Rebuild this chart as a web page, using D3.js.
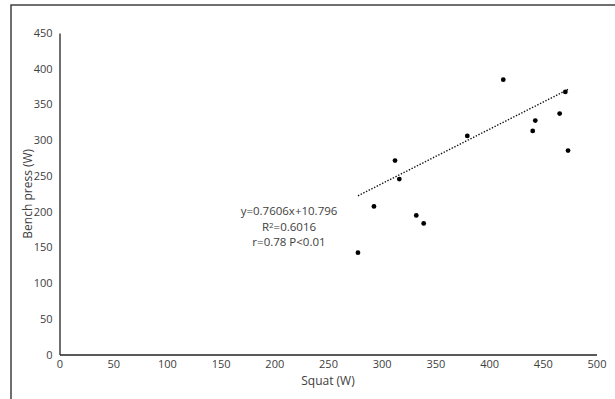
<!DOCTYPE html>
<html>
<head>
<meta charset="utf-8">
<script src="https://cdn.jsdelivr.net/npm/d3@7"></script>
<style>
  html, body { margin: 0; padding: 0; background: #fff; overflow: hidden; }
  svg { display: block; font-family: "Open Sans", "Noto Sans", sans-serif; }
</style>
</head>
<body>
<svg id="chart" width="615" height="399"></svg>
<script>
// Squat vs bench press power output, one point per athlete
const squat = [413.2, 471.0, 465.7, 443.0, 440.6, 473.5, 379.7, 312.4, 316.4, 292.8, 332.2, 339.1, 277.9];
const bench = [384.7, 367.5, 337.2, 327.4, 313.0, 285.5, 306.0, 271.5, 245.5, 207.3, 194.7, 183.5, 142.5];

const xTicks = [0, 50, 100, 150, 200, 250, 300, 350, 400, 450, 500];
const yTicks = [0, 50, 100, 150, 200, 250, 300, 350, 400, 450];

// Linear fit stated in the annotation
const fitSlope = 0.7606;
const fitIntercept = 10.796;
const fitLines = ["y=0.7606x+10.796", "R2=0.6016", "r=0.78 P<0.01"];

const svg = d3.select("#chart");

// outer frame (right and bottom edges fall outside the canvas)
svg.append("rect")
  .attr("x", 11).attr("y", 5)
  .attr("width", 640).attr("height", 420)
  .attr("fill", "none").attr("stroke", "#333").attr("stroke-width", 1.4);

const x = d3.scaleLinear().domain([0, 500]).range([59.5, 596.5]);
const y = d3.scaleLinear().domain([0, 450]).range([354.5, 33]);

const textColor = "#404040";

// x axis
const gx = svg.append("g")
  .attr("transform", `translate(0,${y(0)})`)
  .call(d3.axisBottom(x).tickValues(xTicks).tickSize(0).tickPadding(6));
gx.select(".domain").attr("stroke", "#222").attr("stroke-width", 1.3);
gx.selectAll("text").attr("fill", textColor).style("font-size", "11px")
  .style("font-family", "'Open Sans', sans-serif");

// y axis
const gy = svg.append("g")
  .attr("transform", `translate(${x(0)},0)`)
  .call(d3.axisLeft(y).tickValues(yTicks).tickSize(0).tickPadding(7));
gy.select(".domain").attr("stroke", "#222").attr("stroke-width", 1.3);
gy.selectAll("text").attr("fill", textColor).style("font-size", "11px")
  .style("font-family", "'Open Sans', sans-serif");

// axis titles
svg.append("text")
  .attr("x", (x(0) + x(500)) / 2).attr("y", 385)
  .attr("text-anchor", "middle")
  .attr("fill", textColor).style("font-size", "12px")
  .text("Squat (W)");

svg.append("text")
  .attr("transform", `translate(32,${(y(0) + y(450)) / 2}) rotate(-90)`)
  .attr("text-anchor", "middle")
  .attr("fill", textColor).style("font-size", "12px")
  .text("Bench press (W)");

// fitted line over the observed squat range
const [xMin, xMax] = d3.extent(squat);
svg.append("line")
  .attr("x1", x(xMin)).attr("y1", y(fitSlope * xMin + fitIntercept))
  .attr("x2", x(xMax)).attr("y2", y(fitSlope * xMax + fitIntercept))
  .attr("stroke", "#111").attr("stroke-width", 1.4)
  .attr("stroke-dasharray", "1.4,1.6");

// points
svg.append("g").selectAll("circle")
  .data(squat.map((s, i) => ({ s, b: bench[i] })))
  .join("circle")
  .attr("cx", d => x(d.s)).attr("cy", d => y(d.b))
  .attr("r", 2.4).attr("fill", "#000");

// annotation
const ann = svg.append("text")
  .attr("text-anchor", "middle")
  .attr("fill", textColor).style("font-size", "11.5px");
fitLines.forEach((line, i) => {
  const t = ann.append("tspan").attr("x", 289).attr("y", 215 + i * 15.7);
  if (line.startsWith("R2")) {
    t.append("tspan").text("R");
    t.append("tspan").text("2").style("font-size", "8px").attr("dy", -3);
    t.append("tspan").text(line.slice(2)).attr("dy", 3);
  } else {
    t.text(line);
  }
});
</script>
</body>
</html>
